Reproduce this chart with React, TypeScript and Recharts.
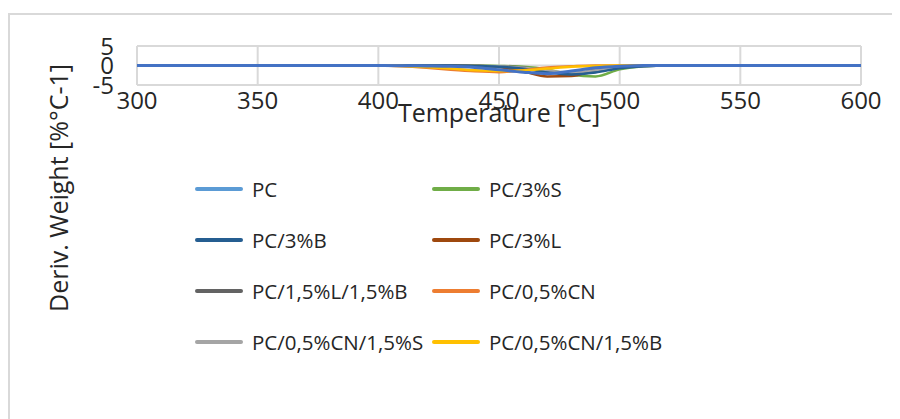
import { LineChart, Line, XAxis, YAxis, CartesianGrid, Legend } from "recharts";

const temps = [300, 310, 320, 330, 340, 350, 360, 370, 380, 390, 400, 410, 420, 430, 440, 450, 460, 470, 480, 490, 500, 510, 520, 530, 540, 550, 560, 570, 580, 590, 600];

const pc = [0, 0, 0, 0, 0, 0, 0, 0, 0, 0, 0, -0.05, -0.1, -0.2, -0.5, -1.1, -1.7, -2.1, -1.4, -0.6, -0.2, 0, 0, 0, 0, 0, 0, 0, 0, 0, 0];
const pc3s = [0, 0, 0, 0, 0, 0, 0, 0, 0, 0, 0, 0, 0, 0, 0, -0.1, -0.3, -1.0, -2.4, -2.8, -1.0, -0.2, 0, 0, 0, 0, 0, 0, 0, 0, 0];
const pc3b = [0, 0, 0, 0, 0, 0, 0, 0, 0, 0, 0, 0, 0, 0, -0.1, -0.3, -0.8, -1.8, -2.3, -1.8, -0.7, -0.2, 0, 0, 0, 0, 0, 0, 0, 0, 0];
const pc3l = [0, 0, 0, 0, 0, 0, 0, 0, 0, 0, 0, 0, 0, 0, -0.1, -0.4, -1.5, -2.8, -2.7, -1.0, -0.3, 0, 0, 0, 0, 0, 0, 0, 0, 0, 0];
const pcLB = [0, 0, 0, 0, 0, 0, 0, 0, 0, 0, 0, 0, 0, 0, -0.1, -0.2, -0.5, -1.5, -2.2, -1.6, -0.5, -0.1, 0, 0, 0, 0, 0, 0, 0, 0, 0];
const pcCN = [0, 0, 0, 0, 0, 0, 0, 0, 0, 0, 0, -0.2, -0.6, -1.1, -1.5, -1.7, -1.2, -0.5, -0.2, 0, 0, 0, 0, 0, 0, 0, 0, 0, 0, 0, 0];
const pcCNS = [0, 0, 0, 0, 0, 0, 0, 0, 0, 0, 0, 0, 0, -0.1, -0.1, -0.2, -0.6, -1.3, -1.8, -1.2, -0.4, -0.1, 0, 0, 0, 0, 0, 0, 0, 0, 0];
const pcCNB = [0, 0, 0, 0, 0, 0, 0, 0, 0, 0, 0, -0.1, -0.4, -0.8, -1.2, -1.4, -1.3, -0.8, -0.3, -0.1, 0, 0, 0, 0, 0, 0, 0, 0, 0, 0, 0];

const xTicks = [300, 350, 400, 450, 500, 550, 600];
const yTicks = [-5, 0, 5];

const data = temps.map((t, i) => ({
  t,
  pc: pc[i],
  pc3s: pc3s[i],
  pc3b: pc3b[i],
  pc3l: pc3l[i],
  pcLB: pcLB[i],
  pcCN: pcCN[i],
  pcCNS: pcCNS[i],
  pcCNB: pcCNB[i],
}));

// legend order matches the reference (two columns)
const legendItems = [
  { name: "PC", color: "#5B9BD5" },
  { name: "PC/3%S", color: "#70AD47" },
  { name: "PC/3%B", color: "#255E91" },
  { name: "PC/3%L", color: "#9E480E" },
  { name: "PC/1,5%L/1,5%B", color: "#636363" },
  { name: "PC/0,5%CN", color: "#ED7D31" },
  { name: "PC/0,5%CN/1,5%S", color: "#A5A5A5" },
  { name: "PC/0,5%CN/1,5%B", color: "#FFC000" },
];

const font = "'Open Sans', sans-serif";
const textColor = "#262626";

const renderLegend = () => (
  <div style={{ display: "grid", gridTemplateColumns: "237px 260px", fontFamily: font, fontSize: 20.5, color: textColor }}>
    {legendItems.map((it) => (
      <div key={it.name} style={{ height: 51, display: "flex", alignItems: "center" }}>
        <div style={{ width: 48, height: 4, borderRadius: 2, background: it.color, marginRight: 9 }} />
        <span>{it.name}</span>
      </div>
    ))}
  </div>
);

export default function App() {
  return (
    <div
      style={{
        marginTop: 5,
        width: 900,
        height: 404,
        borderTop: "2px solid #d9d9d9",
        borderLeft: "2px solid #d9d9d9",
        background: "#fff",
      }}
    >
      <style>{`html { overflow: hidden; }`}</style>
      <LineChart width={890} height={404} data={data} margin={{ top: 31, right: 39, left: 87, bottom: 304 }}>
        <CartesianGrid stroke="#d9d9d9" strokeWidth={2} />
        <XAxis
          dataKey="t"
          type="number"
          domain={[300, 600]}
          ticks={xTicks}
          interval={0}
          height={30}
          axisLine={false}
          tickLine={false}
          tickSize={0}
          tickMargin={7}
          tick={{ fontSize: 24, fill: textColor, fontFamily: font }}
          label={{
            content: ({ viewBox }: any) => (
              <text
                x={viewBox.x + viewBox.width / 2}
                y={viewBox.y + 37}
                textAnchor="middle"
                fill={textColor}
                fontSize={25}
                fontFamily={font}
              >
                Temperature [°C]
              </text>
            ),
          }}
        />
        <YAxis
          type="number"
          domain={[-5, 5]}
          ticks={yTicks}
          interval={0}
          width={40}
          axisLine={false}
          tickLine={false}
          tickSize={0}
          tickMargin={23}
          tick={{ fontSize: 24, fill: textColor, fontFamily: font }}
          label={{
            content: ({ viewBox }: any) => (
              <text
                x={0}
                y={0}
                transform={`translate(${viewBox.x - 29}, 173) rotate(-90)`}
                textAnchor="middle"
                fill={textColor}
                fontSize={25}
                fontFamily={font}
              >
                Deriv. Weight [%°C-1]
              </text>
            ),
          }}
        />
        <Legend
          layout="horizontal"
          verticalAlign="middle"
          align="center"
          content={renderLegend}
          wrapperStyle={{ left: 185, top: 148, width: 520, height: 204 }}
        />
        <Line dataKey="pc3s" name="PC/3%S" type="monotone" stroke="#70AD47" strokeWidth={2.5} dot={false} isAnimationActive={false} />
        <Line dataKey="pc3l" name="PC/3%L" type="monotone" stroke="#9E480E" strokeWidth={2.5} dot={false} isAnimationActive={false} />
        <Line dataKey="pcLB" name="PC/1,5%L/1,5%B" type="monotone" stroke="#636363" strokeWidth={2.5} dot={false} isAnimationActive={false} />
        <Line dataKey="pcCNS" name="PC/0,5%CN/1,5%S" type="monotone" stroke="#A5A5A5" strokeWidth={2.5} dot={false} isAnimationActive={false} />
        <Line dataKey="pc3b" name="PC/3%B" type="monotone" stroke="#255E91" strokeWidth={2.5} dot={false} isAnimationActive={false} />
        <Line dataKey="pcCN" name="PC/0,5%CN" type="monotone" stroke="#ED7D31" strokeWidth={2.5} dot={false} isAnimationActive={false} />
        <Line dataKey="pcCNB" name="PC/0,5%CN/1,5%B" type="monotone" stroke="#FFC000" strokeWidth={2.5} dot={false} isAnimationActive={false} />
        <Line dataKey="pc" name="PC" type="monotone" stroke="#4472C4" strokeWidth={3} dot={false} isAnimationActive={false} />
      </LineChart>
    </div>
  );
}
